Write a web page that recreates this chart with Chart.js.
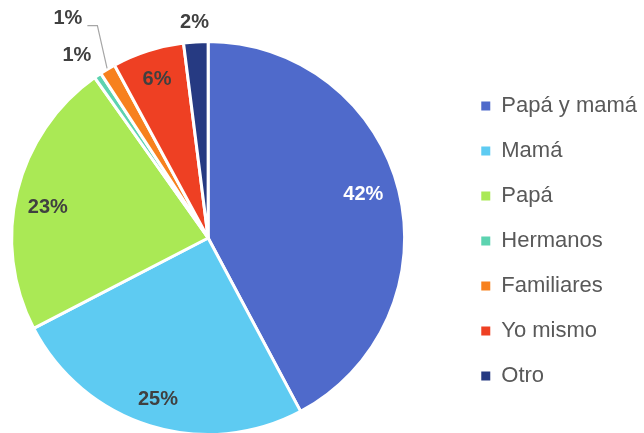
<!DOCTYPE html>
<html>
<head>
<meta charset="utf-8">
<script src="https://cdn.jsdelivr.net/npm/chart.js@4/dist/chart.umd.min.js"></script>
<style>
  html, body { margin: 0; padding: 0; background: #ffffff; overflow: hidden; }
  #wrap { width: 644px; height: 433px; position: relative; overflow: hidden; }
  #c { position: absolute; left: -42px; top: 0; }
</style>
</head>
<body>
<div id="wrap"><canvas id="c" width="689" height="436"></canvas></div>
<script>
// ---- data ----
const categories = ['Papá y mamá', 'Mamá', 'Papá', 'Hermanos', 'Familiares', 'Yo mismo', 'Otro'];
const percentages = [42.2, 25.2, 22.8, 0.6, 1.3, 5.9, 2.0];

// ---- style ----
const sliceColors = ['#4F6ACB', '#5ECBF2', '#AAE955', '#5DD3B0', '#F7811E', '#EE4023', '#263A82'];
const labelColors = ['#FFFFFF', '#404040', '#404040', '#404040', '#404040', '#404040', '#404040'];
// radial factor and angular shift (deg) for each data label
const labelRadius = [0.82, 0.86, 0.83, 1.145, 1.325, 0.85, 1.10];
const labelShift  = [-1.5, 0, -3, -1.5, -1.8, 0, 0];
const leaderLine  = [false, false, false, false, true, false, false];

const pieLabels = {
  id: 'pieLabels',
  afterDatasetsDraw(chart) {
    const ctx = chart.ctx;
    const meta = chart.getDatasetMeta(0);
    const data = chart.data.datasets[0].data;
    ctx.save();
    ctx.font = 'bold 20px "Liberation Sans", Arial, sans-serif';
    ctx.textAlign = 'center';
    ctx.textBaseline = 'middle';
    meta.data.forEach((arc, i) => {
      const p = arc.getProps(['x', 'y', 'startAngle', 'endAngle', 'outerRadius'], true);
      const mid = (p.startAngle + p.endAngle) / 2 + labelShift[i] * Math.PI / 180;
      const r = p.outerRadius * labelRadius[i];
      const lx = p.x + Math.cos(mid) * r;
      const ly = p.y + Math.sin(mid) * r;
      const txt = Math.round(data[i]) + '%';
      if (leaderLine[i]) {
        const realMid = (p.startAngle + p.endAngle) / 2;
        const ex = p.x + Math.cos(realMid) * (p.outerRadius + 1);
        const ey = p.y + Math.sin(realMid) * (p.outerRadius + 1);
        const w = ctx.measureText(txt).width;
        const sx = lx + w / 2 + 5;
        const sy = ly + 7;
        ctx.beginPath();
        ctx.strokeStyle = '#A6A6A6';
        ctx.lineWidth = 1.2;
        ctx.moveTo(sx, sy);
        ctx.lineTo(sx + 10, sy);
        ctx.lineTo(ex, ey);
        ctx.stroke();
      }
      ctx.fillStyle = labelColors[i];
      ctx.fillText(txt, lx, ly);
    });
    ctx.restore();
  }
};

const defaultLabels = Chart.overrides.pie.plugins.legend.labels.generateLabels;

new Chart(document.getElementById('c'), {
  type: 'pie',
  data: {
    labels: categories,
    datasets: [{
      data: percentages,
      backgroundColor: sliceColors,
      borderColor: '#FFFFFF',
      borderWidth: 3
    }]
  },
  options: {
    responsive: false,
    animation: false,
    devicePixelRatio: 1,
    layout: { padding: { left: 0, right: 0, top: 40, bottom: 0 } },
    plugins: {
      tooltip: { enabled: false },
      legend: {
        position: 'right',
        align: 'center',
        title: { display: true, text: '', font: { size: 1, lineHeight: 1 }, padding: { top: 0, bottom: 5 } },
        labels: {
          boxWidth: 9,
          boxHeight: 9,
          padding: 23,
          color: '#595959',
          font: { size: 22, family: '"Liberation Sans", Arial, sans-serif' },
          generateLabels(chart) {
            return defaultLabels(chart).map(l => Object.assign(l, { lineWidth: 0, strokeStyle: l.fillStyle }));
          }
        }
      }
    }
  },
  plugins: [pieLabels]
});
</script>
</body>
</html>
